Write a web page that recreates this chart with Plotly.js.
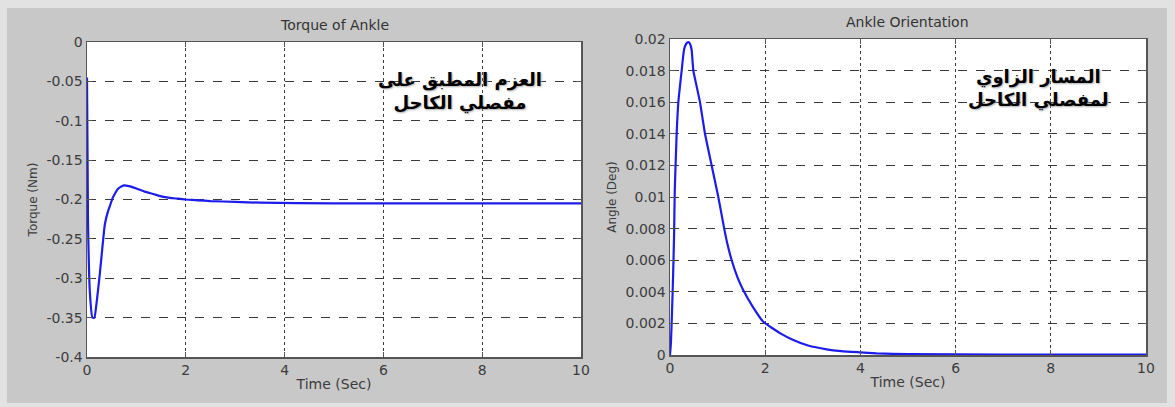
<!DOCTYPE html>
<html>
<head>
<meta charset="utf-8">
<script src="https://cdn.plot.ly/plotly-3.0.1.min.js"></script>
<style>
  html, body { margin: 0; padding: 0; background: #e2e2e2; }
  #frame { position: absolute; left: 7px; top: 8px; width: 1160px; height: 395px; background: #c8c8c8; }
  #chart { position: absolute; left: 0; top: 0; width: 1175px; height: 407px; }
</style>
</head>
<body>
<div id="frame"></div>
<div id="chart"></div>
<script>
// ---- data ----
const timeTorque = [0, 0.02, 0.06, 0.11, 0.15, 0.2, 0.26, 0.31, 0.36, 0.42, 0.47, 0.52, 0.57, 0.62, 0.68, 0.75, 0.85, 1.0, 1.17, 1.34, 1.5, 1.68, 1.85, 2.0, 2.25, 2.5, 3.0, 3.5, 5, 7, 10];
const torque = [-0.045, -0.226, -0.32, -0.35, -0.35, -0.328, -0.294, -0.262, -0.232, -0.216, -0.207, -0.198, -0.192, -0.187, -0.184, -0.182, -0.183, -0.186, -0.19, -0.193, -0.196, -0.198, -0.199, -0.2, -0.201, -0.202, -0.203, -0.204, -0.205, -0.205, -0.205];

const timeAngle = [0, 0.02, 0.04, 0.065, 0.085, 0.1, 0.14, 0.175, 0.245, 0.294, 0.34, 0.385, 0.42, 0.455, 0.49, 0.56, 0.63, 0.735, 0.875, 1.015, 1.12, 1.2, 1.296, 1.42, 1.54, 1.75, 1.96, 2.3, 2.59, 2.9, 3.29, 3.6, 3.99, 4.34, 5, 7, 10];
const angle = [0, 0.0008, 0.0025, 0.005, 0.0075, 0.0104, 0.014, 0.016, 0.018, 0.0193, 0.0197, 0.0198, 0.0197, 0.0193, 0.018, 0.017, 0.016, 0.014, 0.012, 0.010, 0.0083, 0.0071, 0.006, 0.0049, 0.0041, 0.003, 0.0021, 0.0014, 0.00095, 0.0006, 0.00036, 0.00025, 0.00017, 0.0001, 0.00005, 0.00003, 0.00002];

const xTickVals = [0, 2, 4, 6, 8, 10];
const xTickText = ['0', '2', '4', '6', '8', '10'];
const torqueTickVals = [0, -0.05, -0.1, -0.15, -0.2, -0.25, -0.3, -0.35, -0.4];
const torqueTickText = ['0', '-0.05', '-0.1', '-0.15', '-0.2', '-0.25', '-0.3', '-0.35', '-0.4'];
const angleTickVals = [0, 0.002, 0.004, 0.006, 0.008, 0.01, 0.012, 0.014, 0.016, 0.018, 0.02];
const angleTickText = ['0', '0.002', '0.004', '0.006', '0.008', '0.01', '0.012', '0.014', '0.016', '0.018', '0.02'];

const titles = ['Torque of Ankle', 'Ankle Orientation'];
const xLabel = 'Time (Sec)';
const yLabels = ['Torque (Nm)', 'Angle (Deg)'];
const arabicNotes = ['العزم المطبق على<br>مفصلي الكاحل', 'المسار الزاوي<br>لمفصلي الكاحل'];

// ---- drawing ----
const W = 1175, H = 407;
const font = 'DejaVu Sans, Verdana, sans-serif';
const lineColor = 'rgb(28,28,235)';
const textColor = '#3c3c3c';

const traces = [
  { x: timeTorque, y: torque, xaxis: 'x', yaxis: 'y', mode: 'lines',
    line: { color: lineColor, width: 2.2, shape: 'spline', smoothing: 0.4 }, hoverinfo: 'skip' },
  { x: timeAngle, y: angle, xaxis: 'x2', yaxis: 'y2', mode: 'lines',
    line: { color: lineColor, width: 2.2, shape: 'spline', smoothing: 0.4 }, hoverinfo: 'skip' }
];

function xa(domain, anchor) {
  return {
    domain: domain, anchor: anchor, range: [0, 10],
    tickvals: xTickVals, ticktext: xTickText,
    showgrid: true, gridcolor: '#3a3a3a', griddash: 'dot', gridwidth: 1,
    showline: true, linecolor: '#555', linewidth: 1.5, mirror: 'ticks',
    ticks: 'inside', ticklen: 5, tickcolor: '#555',
    zeroline: false, automargin: false,
    tickfont: { family: font, size: 14, color: textColor },
    title: { text: xLabel, font: { family: font, size: 14, color: textColor }, standoff: 2 }
  };
}
function ya(domain, anchor, vals, text, label, rng) {
  return {
    domain: domain, anchor: anchor, range: rng,
    tickvals: vals, ticktext: text,
    showgrid: true, gridcolor: '#3a3a3a', griddash: 'dash', gridwidth: 1,
    showline: true, linecolor: '#555', linewidth: 1.5, mirror: 'ticks',
    ticks: 'inside', ticklen: 5, tickcolor: '#555',
    zeroline: false, automargin: false,
    tickfont: { family: font, size: 14, color: textColor },
    title: { text: label, font: { family: font, size: 12, color: textColor }, standoff: 6 }
  };
}

const px = v => v / W;
const py = v => (H - v) / H;

const arabicFont = { family: 'DejaVu Sans, sans-serif', size: 18, color: '#000', weight: 'bold', shadow: '1px 1px 2px #aaa' };

const layout = {
  width: W, height: H,
  margin: { l: 0, r: 0, t: 0, b: 0 },
  paper_bgcolor: 'rgba(0,0,0,0)',
  plot_bgcolor: '#ffffff',
  showlegend: false,
  xaxis: xa([px(87), px(581)], 'y'),
  yaxis: ya([py(357), py(42)], 'x', torqueTickVals, torqueTickText, yLabels[0], [-0.4, 0]),
  xaxis2: xa([px(670), px(1146)], 'y2'),
  yaxis2: ya([py(355), py(39)], 'x2', angleTickVals, angleTickText, yLabels[1], [0, 0.02]),
  annotations: [
    { text: titles[0], xref: 'paper', yref: 'paper', x: px(334), y: py(25), showarrow: false,
      xanchor: 'center', yanchor: 'middle', font: { family: font, size: 14, color: '#333' } },
    { text: titles[1], xref: 'paper', yref: 'paper', x: px(907), y: py(22), showarrow: false,
      xanchor: 'center', yanchor: 'middle', font: { family: font, size: 14, color: '#333' } },
    { text: arabicNotes[0], xref: 'paper', yref: 'paper', x: px(460), y: py(92), showarrow: false,
      xanchor: 'center', yanchor: 'middle', align: 'center', font: arabicFont },
    { text: arabicNotes[1], xref: 'paper', yref: 'paper', x: px(1038), y: py(89), showarrow: false,
      xanchor: 'center', yanchor: 'middle', align: 'center', font: arabicFont }
  ]
};

Plotly.newPlot('chart', traces, layout, { staticPlot: true, displayModeBar: false });
</script>
</body>
</html>
